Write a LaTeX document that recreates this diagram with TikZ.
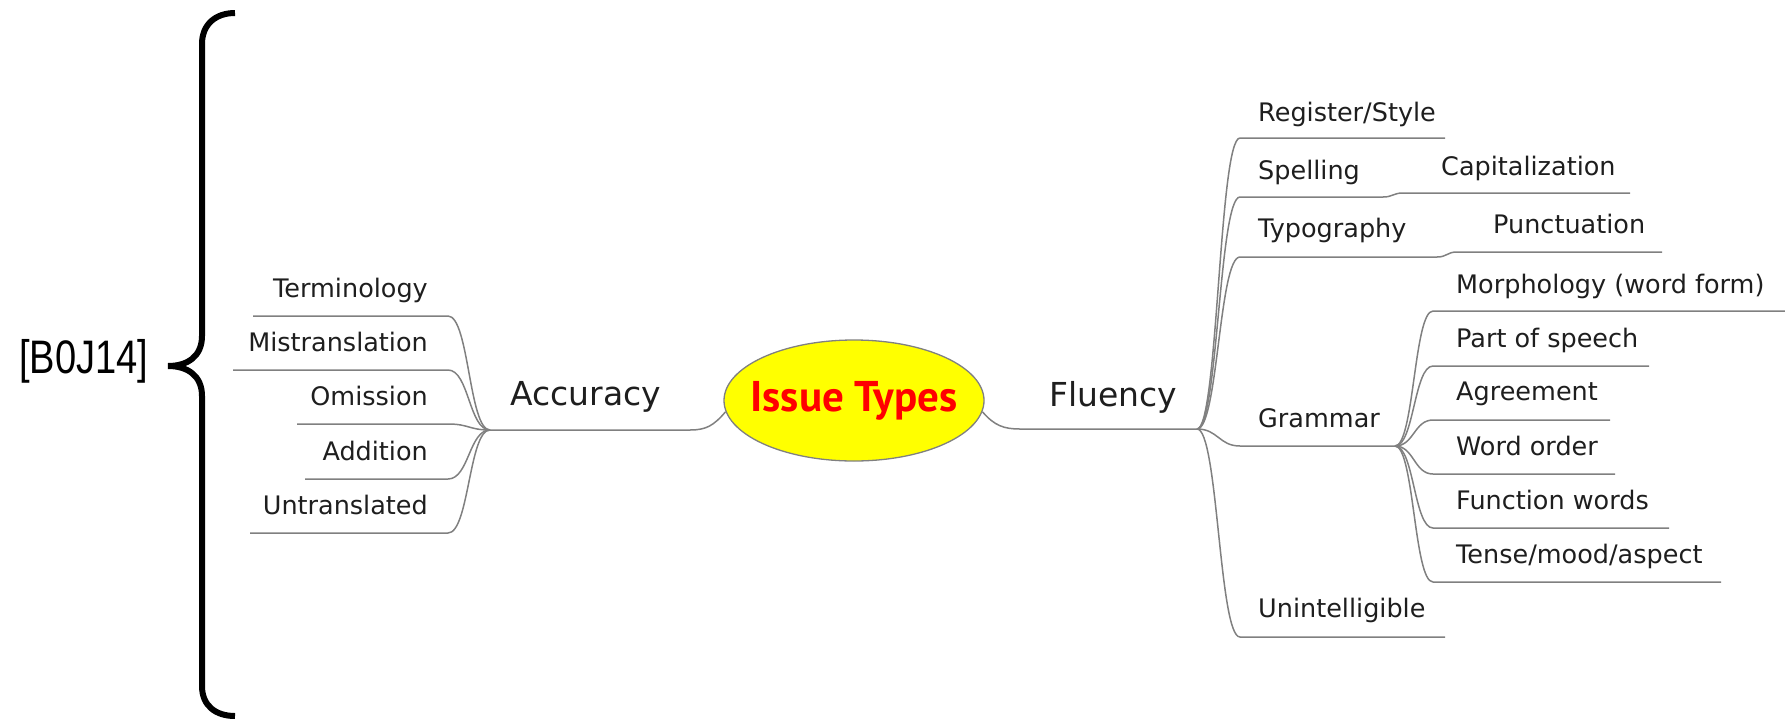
\documentclass[tikz,border=0pt]{standalone}
\usepackage{fontspec}
\setmainfont{DejaVu Sans}
\newfontfamily\rootfont{PT Sans}
\newfontfamily\tagfont{Liberation Sans}
\usetikzlibrary{shapes.geometric}
\definecolor{branch}{HTML}{808080}
\definecolor{ink}{HTML}{1E1E1E}
\definecolor{rootfill}{HTML}{FFFF00}
\definecolor{rootred}{HTML}{FF0000}
\begin{document}
\begin{tikzpicture}[x=1pt,y=-1pt,
  link/.style={draw=branch, line width=1.5pt},
  leaf/.style={inner sep=0pt, text=ink, font=\fontsize{25.5}{30}\selectfont},
  topic/.style={inner sep=0pt, text=ink, font=\fontsize{33}{40}\selectfont},
  root/.style={ellipse, draw=branch, line width=1.3pt, fill=rootfill,
    minimum width=260pt, minimum height=121pt, inner sep=0pt},
  roottext/.style={inner sep=0pt, text=rootred,
    font=\rootfont\bfseries\fontsize{43}{48}\selectfont},
  bracestroke/.style={draw=black, line width=6pt}
]
\useasboundingbox (0,0) rectangle (1785,718);

% ---------- central topic ----------
\node[root, label={[roottext]center:Issue Types}] (root) at (854,400.5) {};

% ---------- accuracy branch ----------
\coordinate (JA) at (490,430);
\coordinate (Ak) at (448,0);
\coordinate (AccK) at (690,430);
\node[topic, anchor=base west] (acc) at (510,405) {Accuracy};

\node[leaf, anchor=base east] (term) at (428,297) {Terminology};
\node[leaf, anchor=base east] (mist) at (428,351) {Mistranslation};
\node[leaf, anchor=base east] (omis) at (428,405) {Omission};
\node[leaf, anchor=base east] (addi) at (428,460) {Addition};
\node[leaf, anchor=base east] (untr) at (428,514) {Untranslated};

\coordinate (termL) at (253,316);
\coordinate (mistL) at (233,370);
\coordinate (omisL) at (297,424);
\coordinate (addiL) at (305,479);
\coordinate (untrL) at (250,533);

\draw[link] (root.185) .. controls +(-12,14) and +(16,0) .. (AccK) -- (JA);
\foreach \c in {term,mist,omis,addi,untr}
  \draw[link] (JA) .. controls +(-21,0) and +(21,0) .. (\c L -| Ak) -- (\c L);

% ---------- fluency branch ----------
\coordinate (JF) at (1197,429);
\coordinate (FluK) at (1020,429);
\coordinate (Fk) at (1240,0);
\node[topic, anchor=base west] (flu) at (1049,406) {Fluency};

\draw[link] (root.355) .. controls +(12,14) and +(-16,0) .. (FluK) -- (JF);

\node[leaf, anchor=base west] (reg)  at (1258,121) {Register/Style};
\node[leaf, anchor=base west] (spel) at (1258,179) {Spelling};
\node[leaf, anchor=base west] (typo) at (1258,237) {Typography};
\node[leaf, anchor=base west] (gram) at (1258,427) {Grammar};
\node[leaf, anchor=base west] (unin) at (1258,617) {Unintelligible};

\coordinate (regR)  at (1445,138);
\coordinate (spelR) at (1383,197);
\coordinate (typoR) at (1437,257);
\coordinate (JG)    at (1395,446);
\coordinate (uninR) at (1445,637);

\foreach \c in {regR,spelR,typoR,JG,uninR}
  \draw[link] (JF) .. controls +(21,0) and +(-21,0) .. (\c -| Fk) -- (\c);

% spelling -> capitalization, typography -> punctuation
\node[leaf, anchor=base west] (capi) at (1441,175) {Capitalization};
\node[leaf, anchor=base west] (punc) at (1493,233) {Punctuation};
\coordinate (Ck) at (1403,0);
\coordinate (Pk) at (1457,0);
\coordinate (capiR) at (1630,193);
\coordinate (puncR) at (1662,252);
\draw[link] (spelR) .. controls +(10,0) and +(-10,0) .. (capiR -| Ck) -- (capiR);
\draw[link] (typoR) .. controls +(10,0) and +(-10,0) .. (puncR -| Pk) -- (puncR);

% grammar sub-branches
\coordinate (Gk) at (1433,0);
\node[leaf, anchor=base west] (morp) at (1456,293) {Morphology (word form)};
\node[leaf, anchor=base west] (pos)  at (1456,347) {Part of speech};
\node[leaf, anchor=base west] (agre) at (1456,400) {Agreement};
\node[leaf, anchor=base west] (word) at (1456,455) {Word order};
\node[leaf, anchor=base west] (func) at (1456,509) {Function words};
\node[leaf, anchor=base west] (tens) at (1456,563) {Tense/mood/aspect};

\coordinate (morpR) at (1785,311);
\coordinate (posR)  at (1649,366);
\coordinate (agreR) at (1610,420);
\coordinate (wordR) at (1615,474);
\coordinate (funcR) at (1669,528);
\coordinate (tensR) at (1721,582);

\foreach \c in {morpR,posR,agreR,wordR,funcR,tensR}
  \draw[link] (JG) .. controls +(19,0) and +(-19,0) .. (\c -| Gk) -- (\c);

% ---------- citation brace ----------
\coordinate (tip) at (168,366);
\draw[bracestroke] (235,13) .. controls (216,13) and (202,24) .. (202,44)
  -- (202,336) .. controls (202,356) and (188,366) .. (tip)
  .. controls (188,366) and (202,376) .. (202,396)
  -- (202,686) .. controls (202,706) and (216,716) .. (235,716);
\node[anchor=base west, inner sep=0pt, font=\tagfont\fontsize{47}{50}\selectfont]
  (tag) at (19,373) {\scalebox{0.81}[1]{[B0J14]}};
\end{tikzpicture}
\end{document}
